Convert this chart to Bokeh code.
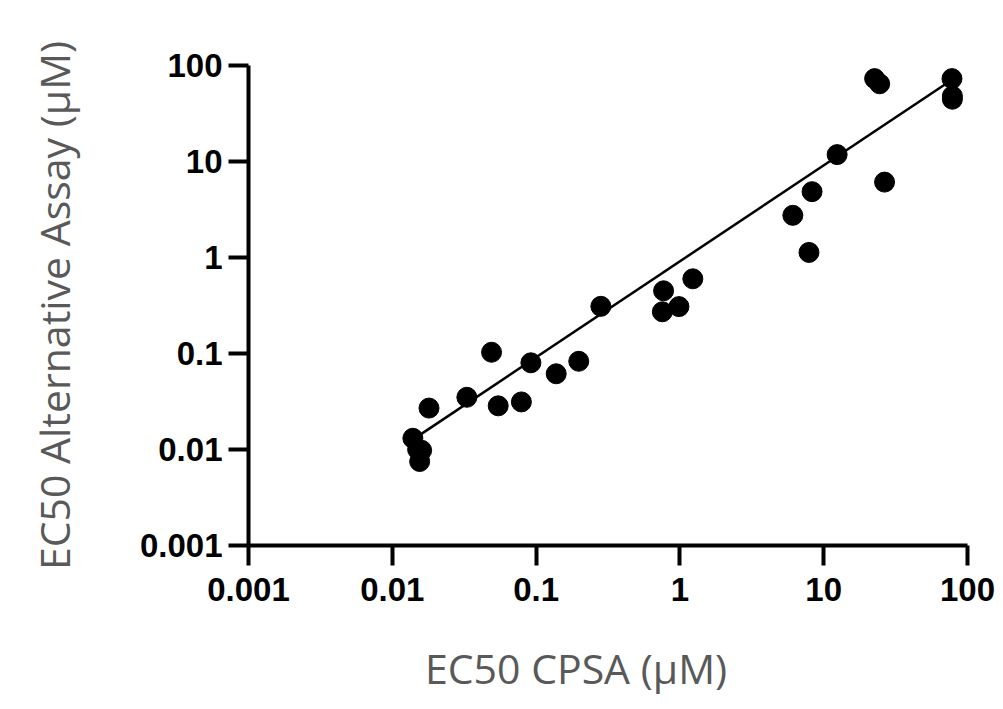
import numpy as np
from bokeh.plotting import figure
from bokeh.models import Range1d, FixedTicker, CustomJSTickFormatter
from bokeh.embed import file_html
from bokeh.resources import INLINE

# Data (EC50 values, µM)
cpsa = [0.0139, 0.0150, 0.0160, 0.0155, 0.0180, 0.0330, 0.0490, 0.0545,
        0.0790, 0.0920, 0.138, 0.198, 0.282, 0.755, 0.770, 0.985, 1.23,
        6.10, 7.90, 8.30, 12.4, 22.6, 24.5, 26.5, 78.0, 78.5, 78.5]
alt = [0.0131, 0.0100, 0.0098, 0.0075, 0.0270, 0.0350, 0.103, 0.0285,
       0.0313, 0.080, 0.0615, 0.083, 0.310, 0.272, 0.450, 0.308, 0.600,
       2.75, 1.13, 4.85, 11.8, 73.0, 64.5, 6.1, 73.0, 48.0, 44.5]

tick_values = [0.001, 0.01, 0.1, 1, 10, 100]
tick_labels = ["0.001", "0.01", "0.1", "1", "10", "100"]

x_title = "EC50 CPSA (µM)"
y_title = "EC50 Alternative Assay (µM)"

# regression line (log-log), slope/intercept
fit_slope = 1.0
fit_intercept = -0.04
fit_x = np.array([min(cpsa), max(cpsa)])
fit_y = 10 ** (fit_intercept + fit_slope * np.log10(fit_x))

W, H = 1000, 708
p = figure(width=W, height=H, x_axis_type="log", y_axis_type="log",
           x_range=Range1d(0.001, 100), y_range=Range1d(0.001, 100),
           output_backend="svg", toolbar_location=None,
           min_border_left=248, min_border_right=W - 967,
           min_border_top=65, min_border_bottom=H - 545)
p.outline_line_color = None
p.xgrid.visible = False
p.ygrid.visible = False
p.background_fill_color = "white"
p.border_fill_color = "white"

fmt = CustomJSTickFormatter(args=dict(vals=tick_values, labs=tick_labels), code="""
let best = 0, bd = 1e9;
for (let i = 0; i < vals.length; i++) {
  const d = Math.abs(Math.log10(vals[i]) - Math.log10(tick));
  if (d < bd) { bd = d; best = i; }
}
return labs[best];
""")

for ax in (p.xaxis[0], p.yaxis[0]):
    ax.ticker = FixedTicker(ticks=tick_values, minor_ticks=[])
    ax.formatter = fmt
    ax.axis_line_width = 4
    ax.axis_line_color = "black"
    ax.major_tick_line_width = 4
    ax.major_tick_line_color = "black"
    ax.major_tick_out = 20
    ax.major_tick_in = 0
    ax.minor_tick_out = 0
    ax.minor_tick_in = 0
    ax.major_label_text_font = "Liberation Sans"
    ax.major_label_text_font_style = "bold"
    ax.major_label_text_font_size = "33px"
    ax.major_label_text_color = "black"
    ax.axis_label_text_font = "Open Sans"
    ax.axis_label_text_font_style = "normal"
    ax.axis_label_text_font_size = "41px"
    ax.axis_label_text_color = "#595959"

p.xaxis.major_label_standoff = 12
p.yaxis.major_label_standoff = 6

p.yaxis.axis_label = y_title
p.yaxis.axis_label_standoff = 55

# trailing no-break spaces shift the centred title left, as in the reference
p.xaxis.axis_label = x_title + "\u00a0" * 6
p.xaxis.axis_label_standoff = 36

p.line(fit_x, fit_y, line_color="black", line_width=2.5)
p.scatter(cpsa, alt, size=20, fill_color="black", line_color="black")

open("out.html", "w").write(file_html(p, INLINE))
